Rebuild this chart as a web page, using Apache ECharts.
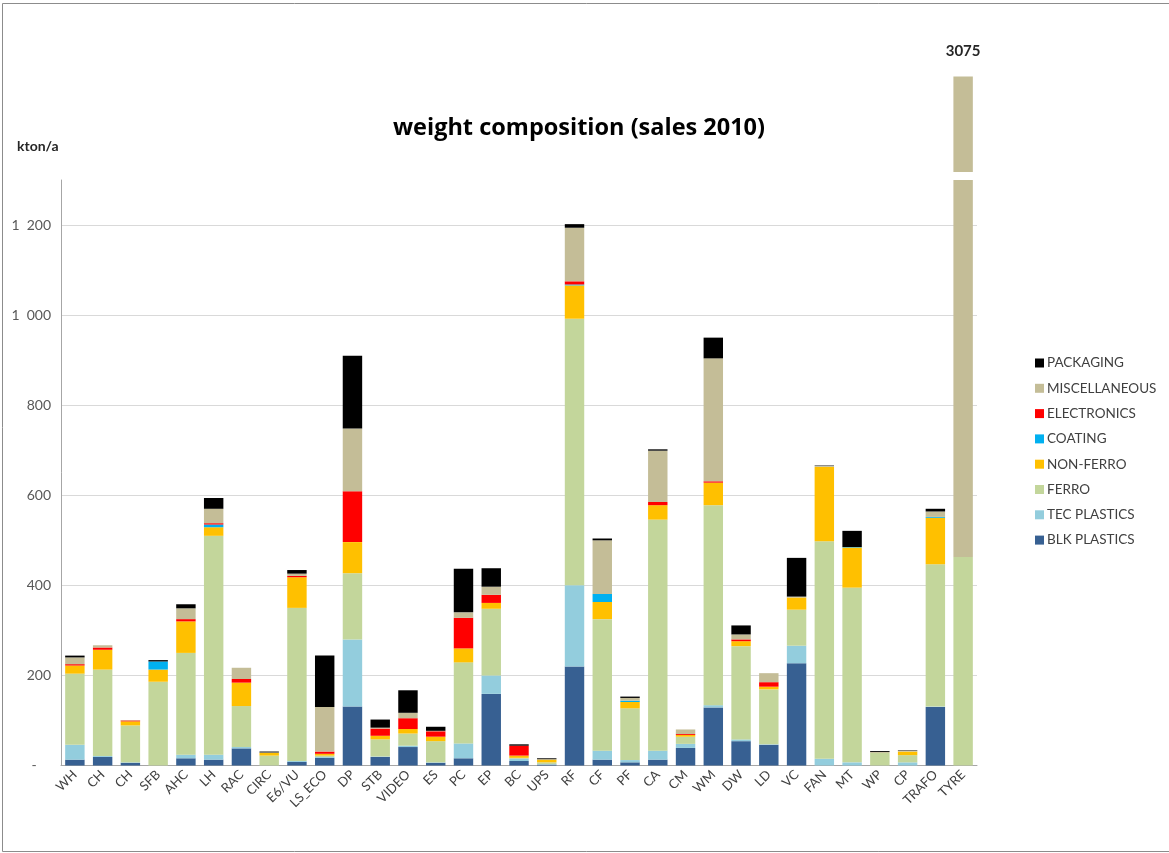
<!DOCTYPE html>
<html>
<head>
<meta charset="utf-8">
<title>weight composition (sales 2010)</title>
<script src="https://cdn.jsdelivr.net/npm/echarts@6/dist/echarts.min.js"></script>
<style>
  html, body { margin: 0; padding: 0; background: #ffffff; }
  #chart { width: 1169px; height: 853px; }
</style>
</head>
<body>
<div id="chart"></div>
<script>
// Product categories (x axis)
const categories = ['WH', 'CH', 'CH', 'SFB', 'AHC', 'LH', 'RAC', 'CIRC', 'E6/VU', 'LS_ECO',
  'DP', 'STB', 'VIDEO', 'ES', 'PC', 'EP', 'BC', 'UPS', 'RF', 'CF', 'PF', 'CA', 'CM', 'WM',
  'DW', 'LD', 'VC', 'FAN', 'MT', 'WP', 'CP', 'TRAFO', 'TYRE'];

// Material fractions per category, kton/a
const blkPlastics = [13, 19, 6, 0, 16, 13, 38, 0, 8, 17, 131, 19, 41, 6, 16, 159, 10, 2, 220, 13, 7, 13, 39, 129, 54, 46, 227, 0, 0, 0, 0, 130, 0];
const tecPlastics = [33, 2, 1, 0, 8, 11, 3, 0, 2, 2, 149, 1, 3, 1, 33, 41, 5, 1, 180, 20, 5, 20, 9, 5, 4, 1, 39, 15, 7, 0, 7, 1, 0];
const ferro = [158, 192, 82, 186, 226, 486, 91, 22, 340, 3, 147, 38, 27, 47, 180, 148, 2, 4, 592, 292, 115, 513, 16, 444, 207, 122, 80, 483, 388, 28, 16, 316, 463];
const nonFerro = [18, 44, 9, 27, 70, 19, 52, 6, 68, 4, 69, 8, 10, 10, 31, 13, 5, 6, 74, 38, 14, 32, 4, 50, 11, 6, 27, 165, 89, 0, 8, 103, 0];
const coating = [0, 0, 0, 18, 0, 6, 0, 0, 0, 0, 0, 0, 0, 0, 0, 0, 0, 0, 2, 18, 3, 0, 0, 0, 0, 0, 0, 0, 1, 0, 0, 2, 0];
const electronics = [3, 5, 2, 0, 5, 3, 8, 0, 3, 5, 113, 16, 24, 12, 68, 18, 22, 0, 7, 0, 0, 7, 2, 3, 4, 10, 0, 0, 0, 0, 0, 0, 0];
const miscellaneous = [15, 5, 1, 0, 24, 32, 25, 1, 5, 99, 139, 2, 12, 1, 12, 18, 0, 1, 119, 119, 6, 114, 10, 273, 11, 20, 2, 2, 0, 2, 2, 12, 2612];
const packaging = [4, 0, 0, 3, 9, 24, 0, 2, 8, 114, 162, 18, 50, 9, 97, 41, 3, 2, 8, 4, 3, 3, 0, 46, 20, 0, 86, 1, 36, 2, 1, 6, 0];

// Value axis ticks
const yTicks = [0, 200, 400, 600, 800, 1000, 1200];

const fractions = [
  { name: 'BLK PLASTICS', data: blkPlastics, color: '#376092' },
  { name: 'TEC PLASTICS', data: tecPlastics, color: '#93CDDD' },
  { name: 'FERRO', data: ferro, color: '#C3D69B' },
  { name: 'NON-FERRO', data: nonFerro, color: '#FFC000' },
  { name: 'COATING', data: coating, color: '#00B0F0' },
  { name: 'ELECTRONICS', data: electronics, color: '#FF0000' },
  { name: 'MISCELLANEOUS', data: miscellaneous, color: '#C4BD97' },
  { name: 'PACKAGING', data: packaging, color: '#000000' }
];

// Totals per category; the tallest one continues in the broken-axis strip on top
const totals = categories.map((_, i) => fractions.reduce((s, f) => s + f.data[i], 0));
const axisMax = 1300;
const overflow = totals.map(t => (t > axisMax ? t : '-'));
const overflowMax = Math.max(...totals);

const font = 'Lato, "Open Sans", sans-serif';
const titleFont = '"Open Sans", Lato, sans-serif';

const chart = echarts.init(document.getElementById('chart'), null, { renderer: 'canvas' });

const series = fractions.map(f => ({
  name: f.name,
  type: 'bar',
  stack: 'total',
  xAxisIndex: 0,
  yAxisIndex: 0,
  barWidth: '70%',
  itemStyle: { color: f.color },
  emphasis: { disabled: true },
  data: f.data
}));

series.push({
  name: 'MISCELLANEOUS',
  type: 'bar',
  xAxisIndex: 1,
  yAxisIndex: 1,
  barWidth: '70%',
  itemStyle: { color: '#C4BD97' },
  emphasis: { disabled: true },
  label: {
    show: true,
    position: 'top',
    distance: 18,
    fontFamily: font,
    fontWeight: 'bold',
    fontSize: 15,
    color: '#262626',
    formatter: p => String(p.value)
  },
  data: overflow
});

chart.setOption({
  animation: false,
  backgroundColor: '#ffffff',
  title: [
    {
      text: 'weight composition (sales 2010)',
      left: 574,
      top: 111,
      textAlign: 'center',
      textStyle: { fontFamily: titleFont, fontWeight: 'bold', fontSize: 23.5, color: '#000000' }
    },
    {
      text: 'kton/a',
      left: 12,
      top: 134,
      textStyle: { fontFamily: font, fontWeight: 'bold', fontSize: 14, color: '#262626' }
    }
  ],
  legend: {
    orient: 'vertical',
    left: 1035,
    top: 356,
    padding: 0,
    itemWidth: 9,
    itemHeight: 9,
    itemGap: 11.3,
    icon: 'rect',
    selectedMode: false,
    data: fractions.map(f => f.name).reverse(),
    textStyle: { fontFamily: font, fontSize: 13.5, color: '#404040', padding: [0, 0, 0, -2] }
  },
  grid: [
    { left: 61, right: 192, top: 180, bottom: 87.5 },
    { left: 61, right: 192, top: 76.5, height: 95.5 }
  ],
  xAxis: [
    {
      type: 'category',
      gridIndex: 0,
      data: categories,
      axisLine: { lineStyle: { color: '#A6A6A6', width: 1 } },
      axisTick: { show: false },
      axisLabel: {
        interval: 0,
        rotate: 45,
        margin: 7,
        fontFamily: font,
        fontSize: 13,
        color: '#404040'
      }
    },
    {
      type: 'category',
      gridIndex: 1,
      data: categories,
      show: false
    }
  ],
  yAxis: [
    {
      type: 'value',
      gridIndex: 0,
      min: 0,
      max: axisMax,
      interval: 200,
      axisLine: { show: true, lineStyle: { color: '#A6A6A6', width: 1 } },
      axisTick: { show: false },
      splitLine: { show: true, showMaxLine: false, lineStyle: { color: '#D9D9D9', width: 1 } },
      axisLabel: {
        margin: 10,
        showMaxLabel: false,
        fontFamily: font,
        fontSize: 14,
        color: '#595959',
        formatter: v => {
          if (!yTicks.includes(v)) return '';
          if (v === 0) return '-    ';
          return String(v).replace(/\B(?=(\d{3})+(?!\d))/g, '\u2002');
        }
      }
    },
    {
      type: 'value',
      gridIndex: 1,
      min: 2860,
      max: overflowMax,
      show: false,
      splitLine: { show: false }
    }
  ],
  graphic: [
    {
      type: 'rect',
      silent: true,
      z: -1,
      shape: { x: 2.5, y: 3.5, width: 1200, height: 848 },
      style: { fill: null, stroke: '#8C8C8C', lineWidth: 1 }
    }
  ],
  series: series
});
</script>
</body>
</html>
